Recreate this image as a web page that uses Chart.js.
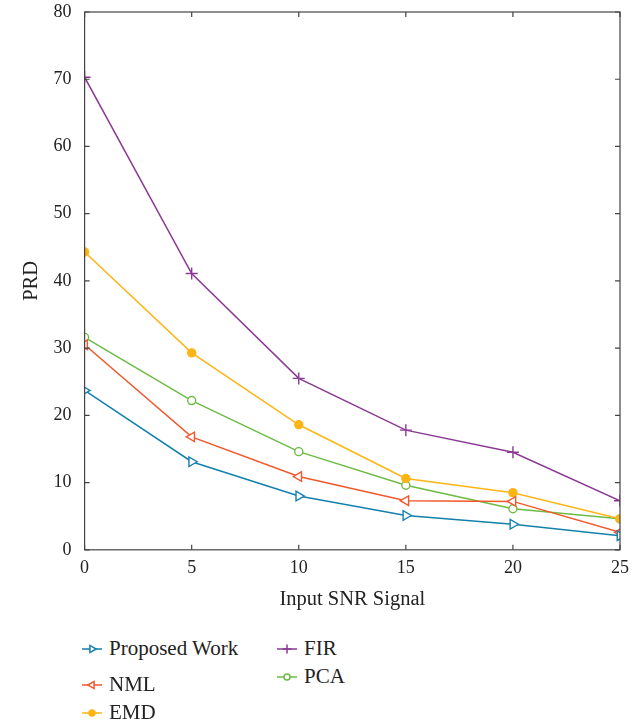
<!DOCTYPE html>
<html lang="en">
<head>
  <meta charset="UTF-8">
  <title>PRD vs Input SNR</title>
  <script src="https://cdn.jsdelivr.net/npm/chart.js"></script>
  <style>
    body { margin: 0; background: #fff; }
    .wrap { position: relative; width: 638px; height: 725px; font-family: "Liberation Serif", serif; }
    .chart-box { position: absolute; left: 0; top: 0; width: 638px; height: 620px; }
    .legend-item { position: absolute; display: flex; align-items: center; font-size: 21px; color: #222; }
    .legend-item canvas { margin-right: 7px; }
  </style>
</head>
<body>
  <div class="wrap">
    <div class="chart-box"><canvas id="prdChart"></canvas></div>
    <div id="legend"></div>
  </div>

  <script>
    // data
    const snrLevels = [0, 5, 10, 15, 20, 25];
    const proposedWork = [23.7, 13.1, 8.0, 5.1, 3.8, 2.1];
    const nml = [30.5, 16.8, 10.9, 7.3, 7.2, 2.6];
    const emd = [44.3, 29.3, 18.6, 10.6, 8.5, 4.6];
    const fir = [70.3, 41.1, 25.5, 17.8, 14.5, 7.3];
    const pca = [31.6, 22.2, 14.6, 9.6, 6.1, 4.6];
    const yTicks = [0, 10, 20, 30, 40, 50, 60, 70, 80];

    const series = [
      { label: 'Proposed Work', values: proposedWork, color: '#1380AE', style: 'triangle', rot: 90, fill: false },
      { label: 'NML', values: nml, color: '#F1582B', style: 'triangle', rot: -90, fill: false },
      { label: 'EMD', values: emd, color: '#FDB515', style: 'circle', rot: 0, fill: true },
      { label: 'FIR', values: fir, color: '#8A3A94', style: 'cross', rot: 0, fill: false },
      { label: 'PCA', values: pca, color: '#6DBB45', style: 'circle', rot: 0, fill: false }
    ];

    function markerSize(s) {
      if (s.style === 'cross') return 6;
      if (s.style === 'triangle') return 5.5;
      return 4;
    }

    // inward ticks on all four sides plus the box
    const boxTicks = {
      id: 'boxTicks',
      afterDraw(chart) {
        const { ctx, chartArea: a, scales } = chart;
        ctx.save();
        ctx.strokeStyle = '#444';
        ctx.lineWidth = 1.2;
        ctx.strokeRect(a.left, a.top, a.right - a.left, a.bottom - a.top);
        const len = 5;
        ctx.beginPath();
        scales.x.ticks.forEach(t => {
          const px = scales.x.getPixelForValue(t.value);
          ctx.moveTo(px, a.bottom); ctx.lineTo(px, a.bottom - len);
          ctx.moveTo(px, a.top); ctx.lineTo(px, a.top + len);
        });
        scales.y.ticks.forEach(t => {
          const py = scales.y.getPixelForValue(t.value);
          ctx.moveTo(a.left, py); ctx.lineTo(a.left + len, py);
          ctx.moveTo(a.right, py); ctx.lineTo(a.right - len, py);
        });
        ctx.stroke();
        ctx.restore();
      }
    };

    const ctx = document.getElementById('prdChart').getContext('2d');
    const prdChart = new Chart(ctx, {
      type: 'line',
      data: {
        datasets: series.map(s => ({
          label: s.label,
          data: s.values.map((v, i) => ({ x: snrLevels[i], y: v })),
          borderColor: s.color,
          backgroundColor: s.fill ? s.color : '#fff',
          pointBorderColor: s.color,
          pointStyle: s.style,
          rotation: s.rot,
          pointRadius: markerSize(s),
          pointBorderWidth: 1.4,
          borderWidth: 1.5,
          tension: 0
        }))
      },
      options: {
        responsive: true,
        maintainAspectRatio: false,
        animation: false,
        layout: { padding: { left: 15, right: 18, top: 12, bottom: 4 } },
        plugins: {
          legend: { display: false },
          tooltip: { enabled: false }
        },
        scales: {
          x: {
            type: 'linear',
            min: 0,
            max: 25,
            ticks: { stepSize: 5, color: '#222', font: { family: 'Liberation Serif', size: 18 }, padding: 0 },
            grid: { display: false },
            border: { display: false },
            title: { display: true, text: 'Input SNR Signal', color: '#222', font: { family: 'Liberation Serif', size: 20.5 }, padding: { top: 8 } }
          },
          y: {
            min: 0,
            max: 80,
            afterBuildTicks: axis => { axis.ticks = yTicks.map(v => ({ value: v })); },
            afterFit: axis => { axis.paddingTop = 0; },
            ticks: { color: '#222', font: { family: 'Liberation Serif', size: 18 }, padding: 5 },
            grid: { display: false },
            border: { display: false },
            title: { display: true, text: 'PRD', color: '#222', font: { family: 'Liberation Serif', size: 20.5 }, padding: { bottom: 5 } }
          }
        }
      },
      plugins: [boxTicks]
    });

    // legend laid out like the figure: two columns
    const legendPos = [
      { left: 82, top: 636 },
      { left: 82, top: 672 },
      { left: 82, top: 700 },
      { left: 277, top: 636 },
      { left: 277, top: 664 }
    ];
    const legend = document.getElementById('legend');
    series.forEach((s, i) => {
      const item = document.createElement('div');
      item.className = 'legend-item';
      item.style.left = legendPos[i].left + 'px';
      item.style.top = legendPos[i].top + 'px';
      const c = document.createElement('canvas');
      c.width = 20; c.height = 24;
      const g = c.getContext('2d');
      g.strokeStyle = s.color;
      g.lineWidth = 1.5;
      g.beginPath(); g.moveTo(0, 12); g.lineTo(20, 12); g.stroke();
      g.fillStyle = s.fill ? s.color : '#fff';
      Chart.helpers.drawPoint(g, { pointStyle: s.style, rotation: s.rot, radius: markerSize(s) * 0.75, borderWidth: 1.3 }, 10, 12);
      item.appendChild(c);
      item.appendChild(document.createTextNode(s.label));
      legend.appendChild(item);
    });
  </script>
</body>
</html>
